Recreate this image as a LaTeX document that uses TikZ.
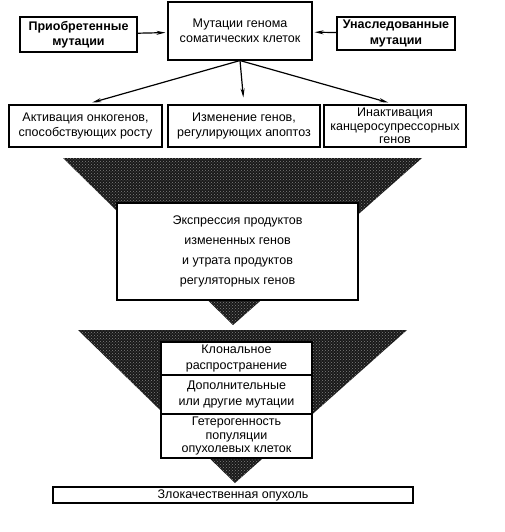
\documentclass[tikz,border=0pt]{standalone}
\usepackage{fontspec}
\setmainfont{Liberation Sans}
\usetikzlibrary{arrows,arrows.meta,patterns}

\begin{document}
\begin{tikzpicture}[->,>={Stealth[length=9pt,width=4pt]},x=1pt,y=-1pt,semithick,font=\fontsize{12.5}{15.5}\selectfont]
\tikzstyle{every node}=[draw,fill=white,align=center,inner sep=1pt,line width=1.1pt]
\tikzstyle{funnel}=[-,fill=black!90,postaction={pattern=crosshatch dots,pattern color=black!50}]
\useasboundingbox (0,0) rectangle (505,532);

\node[minimum width=117pt,minimum height=35pt] (pri)   at (78.5,34.5) {\bfseries Приобретенные\\ \bfseries мутации};
\node[minimum width=144pt,minimum height=58pt] (mut)   at (240,31)    {Мутации генома\\ соматических клеток};
\node[minimum width=118pt,minimum height=33pt] (uns)   at (396,33.5)  {\bfseries Унаследованные\\ \bfseries мутации};

\node[minimum width=153pt,minimum height=42pt] (act)   at (85.5,126)  {Активация онкогенов,\\ способствующих росту};
\node[minimum width=152pt,minimum height=42pt] (izm)   at (244,126)   {Изменение генов,\\ регулирующих апоптоз};
\node[minimum width=142pt,minimum height=42pt,font=\fontsize{12.5}{13.5}\selectfont] (inact) at (395,126) {Инактивация\\ канцеросупрессорных\\ генов};

% first funnel
\fill[funnel] (63,158) -- (422,158) -- (233,325) -- cycle;
\node[minimum width=241pt,minimum height=97pt,font=\fontsize{12.5}{20}\selectfont] (expr) at (237.5,251.5)
  {Экспрессия продуктов\\ измененных генов\\ и утрата продуктов\\ регуляторных генов};

% second funnel
\fill[funnel] (78,330) -- (407,330) -- (235,483) -- cycle;
\node[minimum width=151pt,minimum height=33pt] (klon) at (236.5,358.5) {Клональное\\ распространение};
\node[minimum width=151pt,minimum height=39pt] (dop)  at (236.5,394.5) {Дополнительные\\ или другие мутации};
\node[minimum width=151pt,minimum height=44pt,font=\fontsize{12.5}{13.5}\selectfont] (het) at (236.5,436) {Гетерогенность\\ популяции\\ опухолевых клеток};

\node[minimum width=360pt,minimum height=16pt,inner sep=0pt] (zlo) at (233,495) {Злокачественная опухоль};

\path[line width=1.2pt,shorten >=2pt]
(pri) edge (mut)
(uns) edge (mut);
\path[line width=1.2pt,shorten >=7pt]
(mut.south) edge (act.north)
            edge (izm.north)
            edge (inact.north);
\end{tikzpicture}
\end{document}
